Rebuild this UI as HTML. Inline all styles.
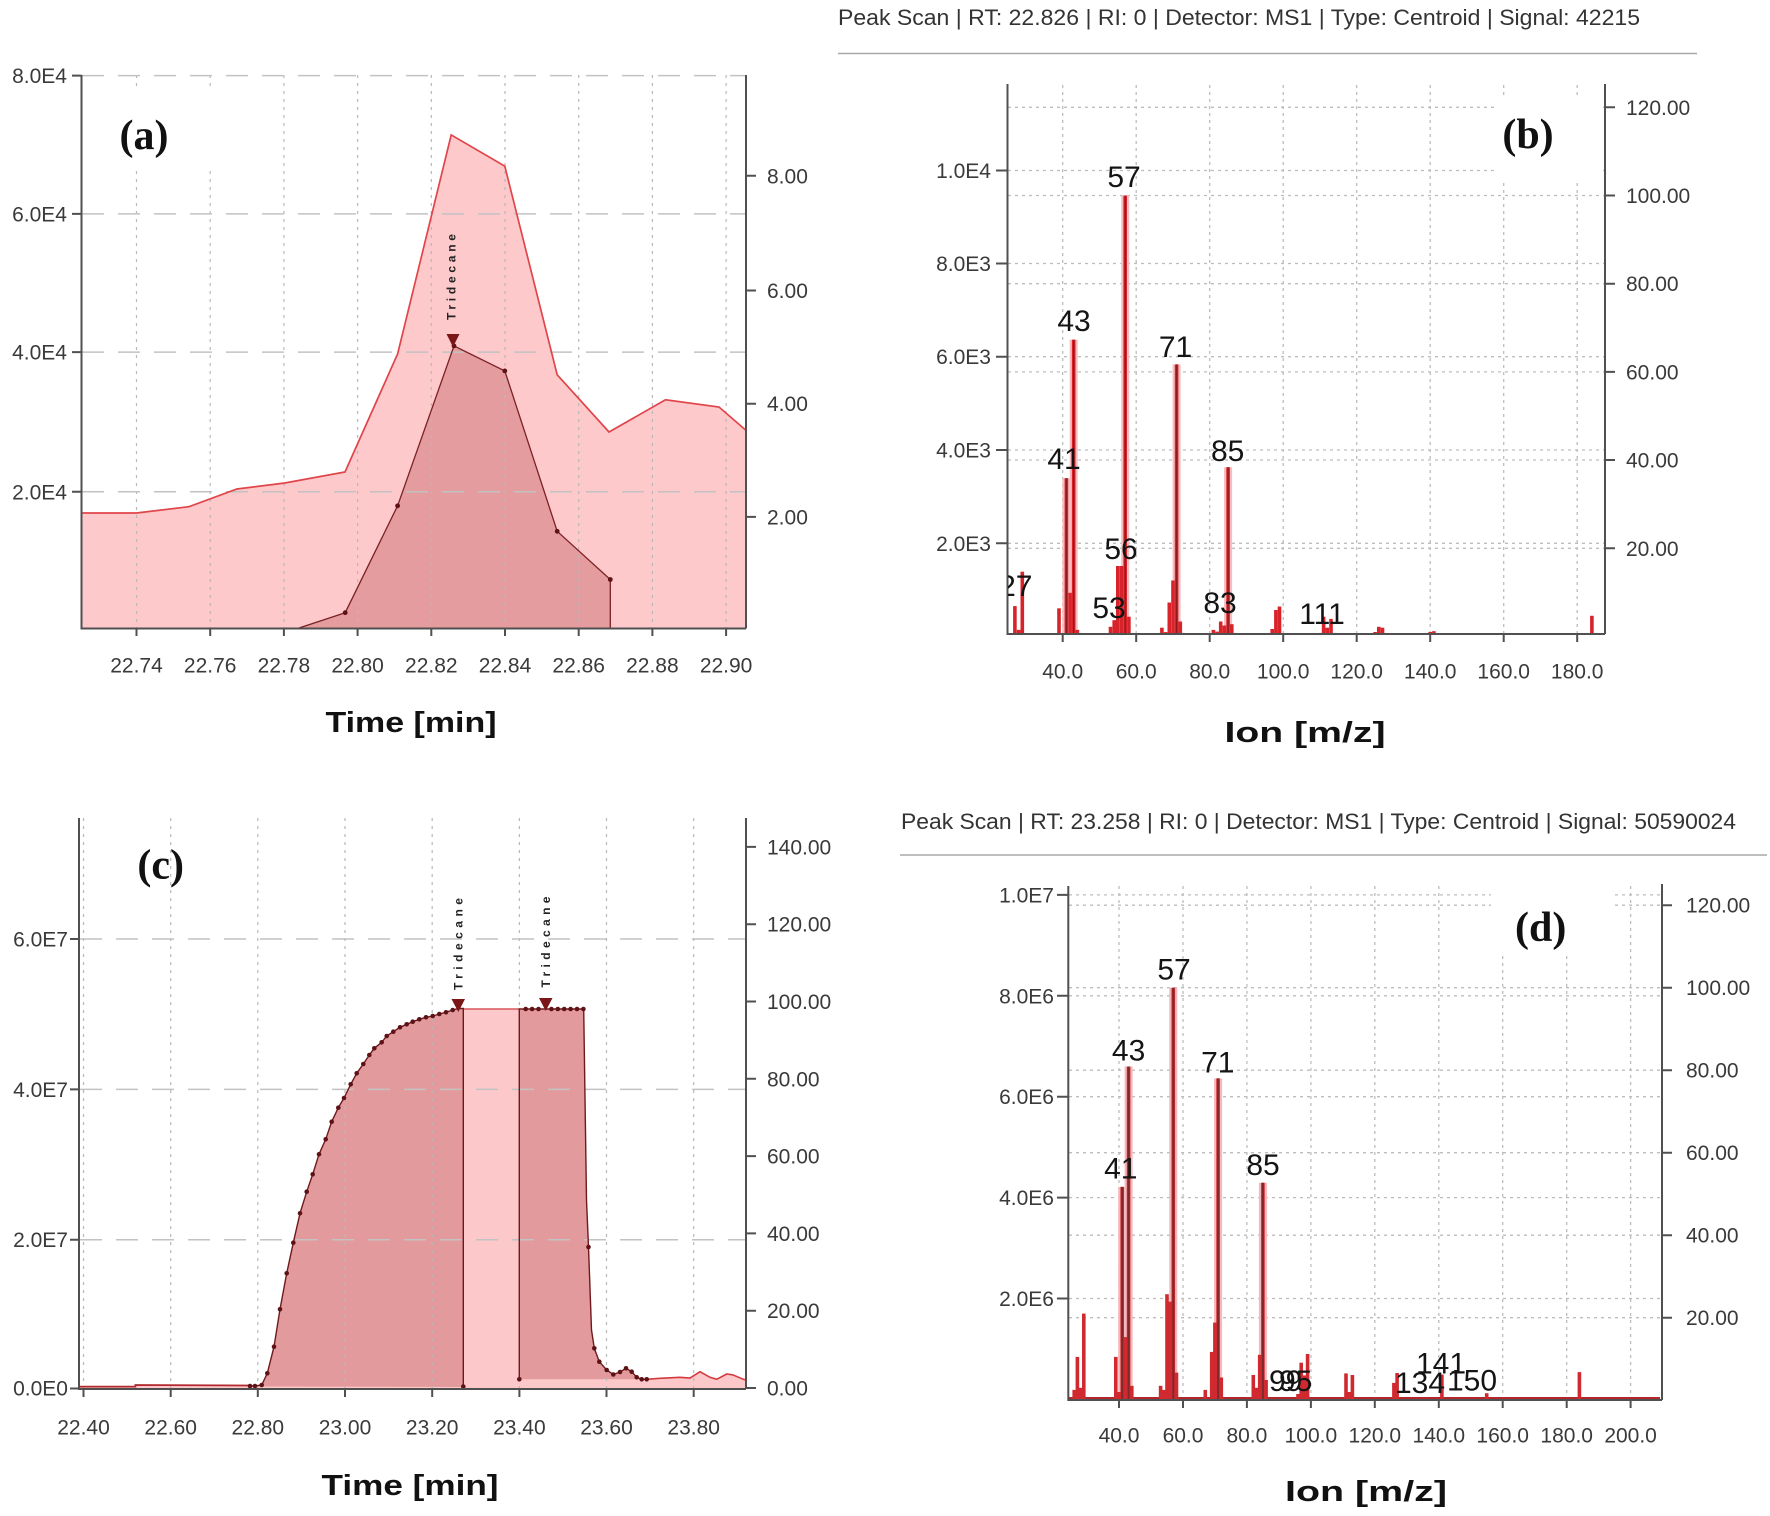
<!DOCTYPE html>
<html><head><meta charset="utf-8">
<style>
html,body{margin:0;padding:0;background:#fff;}
svg{display:block;}
text{font-family:"Liberation Sans",Arial,sans-serif;}
.tk{font-size:21px;fill:#3a3a3a;}
.pk{font-size:30px;fill:#141414;}
.ttl{font-size:29px;font-weight:bold;fill:#111;}
.lab{font-family:"Liberation Serif","Times New Roman",serif;font-size:42px;font-weight:bold;fill:#111;}
.hdr{font-size:22px;fill:#333;}
.trd{font-size:12px;font-weight:bold;fill:#222;}
.ax{stroke:#505050;stroke-width:2;fill:none;}
.gd{stroke:#c2c2c2;stroke-width:1.5;stroke-dasharray:22 14;fill:none;}
.gv{stroke:#b8b8b8;stroke-width:1.2;stroke-dasharray:3 5;fill:none;}
.gdot{stroke:#bdbdbd;stroke-width:1.3;stroke-dasharray:3 4;fill:none;}
</style></head><body>
<svg width="1770" height="1516" viewBox="0 0 1770 1516" xmlns="http://www.w3.org/2000/svg">
<defs>
<clipPath id="clipb"><rect x="1008" y="80" width="597" height="560"/></clipPath>
</defs>
<rect x="0" y="0" width="1770" height="1516" fill="#fff"/>

<!-- ================= PANEL (a) ================= -->
<polygon fill="#fdc9cb" points="81.8,628 81.8,513 136.5,513 189,506.7 237,489 284.8,483 345,472 397.6,354 451.2,134.9 504.8,166.2 557.2,374.8 609,432 665.5,399.8 719,407 745.6,430 745.6,628"/>
<polygon fill="#e49c9e" points="299,628 345.2,612.7 397.6,505.8 454,345.9 504.8,370.9 557.2,531.3 610.3,579.5 610.3,628"/>
<g class="gv">
<path d="M136.5,75V628M210.2,75V628M283.9,75V628M357.6,75V628M431.3,75V628M505,75V628M578.7,75V628M652.4,75V628M726.1,75V628"/>
</g>
<g class="gd">
<path d="M82,75.6H746M82,213.9H746M82,352.1H746M82,491.8H746"/>
</g>
<rect x="100" y="88" width="130" height="82" fill="#fff"/>
<polyline fill="none" stroke="#e0454a" stroke-width="1.7" points="81.8,513 136.5,513 189,506.7 237,489 284.8,483 345,472 397.6,354 451.2,134.9 504.8,166.2 557.2,374.8 609,432 665.5,399.8 719,407 745.6,430"/>
<polyline fill="none" stroke="#7a2024" stroke-width="1.3" points="299,628 345.2,612.7 397.6,505.8 454,345.9 504.8,370.9 557.2,531.3 610.3,579.5 610.3,628"/>
<g fill="#5e1216">
<circle cx="345.2" cy="612.7" r="2.4"/><circle cx="397.6" cy="505.8" r="2.4"/><circle cx="454" cy="345.9" r="2.4"/><circle cx="504.8" cy="370.9" r="2.4"/><circle cx="557.2" cy="531.3" r="2.4"/><circle cx="610.3" cy="579.5" r="2.4"/>
</g>
<polygon points="446.5,334 459.5,334 453,347" fill="#7a1518"/>
<text class="trd" transform="translate(455.5,277) rotate(-90)" text-anchor="middle" textLength="86" lengthAdjust="spacing">Tridecane</text>
<path class="ax" d="M81.5,75V628.5H746M746,75V628.5"/>
<path class="ax" d="M72,75.6H81.5M72,213.9H81.5M72,352.1H81.5M72,491.8H81.5M746,175.8H756M746,290.5H756M746,403.7H756M746,516.9H756M136.5,628.5V636M210.2,628.5V636M283.9,628.5V636M357.6,628.5V636M431.3,628.5V636M505,628.5V636M578.7,628.5V636M652.4,628.5V636M726.1,628.5V636"/>
<g class="tk" text-anchor="end">
<text x="67" y="83.1">8.0E4</text><text x="67" y="221.4">6.0E4</text><text x="67" y="359.6">4.0E4</text><text x="67" y="499.3">2.0E4</text>
</g>
<g class="tk">
<text x="767" y="183.3">8.00</text><text x="767" y="298">6.00</text><text x="767" y="411.2">4.00</text><text x="767" y="524.4">2.00</text>
</g>
<g class="tk" text-anchor="middle">
<text x="136.5" y="672.5">22.74</text><text x="210.2" y="672.5">22.76</text><text x="283.9" y="672.5">22.78</text><text x="357.6" y="672.5">22.80</text><text x="431.3" y="672.5">22.82</text><text x="505" y="672.5">22.84</text><text x="578.7" y="672.5">22.86</text><text x="652.4" y="672.5">22.88</text><text x="726.1" y="672.5">22.90</text>
</g>
<text class="ttl" x="411" y="732" text-anchor="middle" textLength="171" lengthAdjust="spacingAndGlyphs">Time [min]</text>
<text class="lab" x="144" y="149" text-anchor="middle">(a)</text>

<!-- ================= PANEL (b) ================= -->
<text class="hdr" x="838" y="25" textLength="802" lengthAdjust="spacingAndGlyphs">Peak Scan | RT: 22.826 | RI: 0 | Detector: MS1 | Type: Centroid | Signal: 42215</text>
<line x1="838" y1="53.5" x2="1697" y2="53.5" stroke="#a8a8a8" stroke-width="1.6"/>
<g class="gdot">
<path d="M1062.7,85V634M1136.2,85V634M1209.7,85V634M1283.2,85V634M1356.7,85V634M1430.2,85V634M1503.7,85V634M1577.2,85V634"/>
<path d="M1008,170.5H1605M1008,263.5H1605M1008,356.7H1605M1008,450H1605M1008,543.3H1605M1008,107.3H1605M1008,195.5H1605M1008,283.7H1605M1008,371.9H1605M1008,460H1605M1008,548.3H1605"/>
</g>
<rect x="1494" y="97" width="108" height="82" fill="#fff"/>
<g fill="#f8bcbf">
<rect x="1062.4" y="478.2" width="8" height="155.8"/><rect x="1069.7" y="339.7" width="8" height="294.3"/><rect x="1121.2" y="195.5" width="8" height="438.5"/><rect x="1172.6" y="364.4" width="8" height="269.6"/><rect x="1224.1" y="467.2" width="8" height="166.8"/>
</g>
<g fill="#d8232a">
<rect x="1013.1" y="606.1" width="3.6" height="27.9"/>
<rect x="1016.8" y="629.9" width="3.6" height="4.1"/>
<rect x="1020.5" y="571.7" width="3.6" height="62.3"/>
<rect x="1057.2" y="608.3" width="3.6" height="25.7"/>
<rect x="1064.6" y="478.2" width="3.6" height="155.8"/>
<rect x="1068.3" y="592.8" width="3.6" height="41.2"/>
<rect x="1071.9" y="339.7" width="3.6" height="294.3"/>
<rect x="1075.6" y="629.9" width="3.6" height="4.1"/>
<rect x="1108.7" y="626.8" width="3.6" height="7.2"/>
<rect x="1112.4" y="620.2" width="3.6" height="13.8"/>
<rect x="1116" y="566" width="3.6" height="68"/>
<rect x="1119.7" y="566" width="3.6" height="68"/>
<rect x="1123.4" y="195.5" width="3.6" height="438.5"/>
<rect x="1127.1" y="616.7" width="3.6" height="17.3"/>
<rect x="1160.1" y="627.7" width="3.6" height="6.3"/>
<rect x="1163.8" y="632.1" width="3.6" height="1.9"/>
<rect x="1167.5" y="602.5" width="3.6" height="31.5"/>
<rect x="1171.2" y="580.5" width="3.6" height="53.5"/>
<rect x="1174.8" y="364.4" width="3.6" height="269.6"/>
<rect x="1178.5" y="621.5" width="3.6" height="12.5"/>
<rect x="1211.6" y="629.9" width="3.6" height="4.1"/>
<rect x="1215.3" y="631.6" width="3.6" height="2.4"/>
<rect x="1218.9" y="621.5" width="3.6" height="12.5"/>
<rect x="1222.6" y="625.5" width="3.6" height="8.5"/>
<rect x="1226.3" y="467.2" width="3.6" height="166.8"/>
<rect x="1230" y="624.2" width="3.6" height="9.8"/>
<rect x="1270.4" y="629" width="3.6" height="5"/>
<rect x="1274.1" y="610" width="3.6" height="24"/>
<rect x="1277.7" y="606.5" width="3.6" height="27.5"/>
<rect x="1321.8" y="616.7" width="3.6" height="17.3"/>
<rect x="1325.5" y="627.7" width="3.6" height="6.3"/>
<rect x="1329.2" y="618.9" width="3.6" height="15.1"/>
<rect x="1373.3" y="632" width="3.6" height="2"/>
<rect x="1377" y="626.8" width="3.6" height="7.2"/>
<rect x="1380.7" y="627.7" width="3.6" height="6.3"/>
<rect x="1428.4" y="632" width="3.6" height="2"/>
<rect x="1432.1" y="631.2" width="3.6" height="2.8"/>
<rect x="1590.1" y="615.8" width="3.6" height="18.2"/>
</g>
<g stroke="#8e1a1e" stroke-width="1.3">
<path d="M1066.4,478.2V634M1073.7,339.7V634M1125.2,195.5V634M1176.6,364.4V634M1228.1,467.2V634"/>
</g>
<path class="ax" d="M1007.5,84V634H1605M1605,84V634"/>
<path class="ax" d="M996,170.5H1007.5M996,263.5H1007.5M996,356.7H1007.5M996,450H1007.5M996,543.3H1007.5M1605,107.3H1615M1605,195.5H1615M1605,283.7H1615M1605,371.9H1615M1605,460H1615M1605,548.3H1615M1062.7,634V642M1136.2,634V642M1209.7,634V642M1283.2,634V642M1356.7,634V642M1430.2,634V642M1503.7,634V642M1577.2,634V642"/>
<g class="tk" text-anchor="end">
<text x="991" y="178">1.0E4</text><text x="991" y="271">8.0E3</text><text x="991" y="364.2">6.0E3</text><text x="991" y="457.5">4.0E3</text><text x="991" y="550.8">2.0E3</text>
</g>
<g class="tk">
<text x="1626" y="114.8">120.00</text><text x="1626" y="203">100.00</text><text x="1626" y="291.2">80.00</text><text x="1626" y="379.4">60.00</text><text x="1626" y="467.5">40.00</text><text x="1626" y="555.8">20.00</text>
</g>
<g class="tk" text-anchor="middle">
<text x="1062.7" y="678.5">40.0</text><text x="1136.2" y="678.5">60.0</text><text x="1209.7" y="678.5">80.0</text><text x="1283.2" y="678.5">100.0</text><text x="1356.7" y="678.5">120.0</text><text x="1430.2" y="678.5">140.0</text><text x="1503.7" y="678.5">160.0</text><text x="1577.2" y="678.5">180.0</text>
</g>
<g class="pk" text-anchor="middle">
<text x="1015.8" y="596" clip-path="url(#clipb)">27</text>
<text x="1064" y="469">41</text>
<text x="1074" y="331">43</text>
<text x="1109" y="618">53</text>
<text x="1121" y="559">56</text>
<text x="1124" y="187">57</text>
<text x="1175.5" y="357">71</text>
<text x="1220" y="613">83</text>
<text x="1227.7" y="461">85</text>
<text x="1322" y="624">111</text>
</g>
<text class="ttl" x="1305" y="742" text-anchor="middle" textLength="161" lengthAdjust="spacingAndGlyphs">Ion [m/z]</text>
<text class="lab" x="1528" y="148" text-anchor="middle">(b)</text>

<!-- ================= PANEL (c) ================= -->
<polygon fill="#fcc8ca" points="79,1389 79,1386.6 135.4,1386.6 135.4,1385 250,1385.5 255,1386 261.7,1385 267.3,1373.3 274,1346.7 280,1309.3 286.7,1273.3 293.3,1242.7 300,1213.3 306.7,1191.7 312.7,1174.3 319,1154.3 325.7,1139.3 331.7,1121.7 338.3,1107.7 344,1098 350.7,1084.3 356.7,1073.3 363.3,1064 369.3,1055 374.3,1048.3 381.7,1042.3 386.7,1036 393.3,1031.7 400,1027.3 406.7,1024.3 412.7,1021.7 419.3,1019.3 426,1017.3 432.7,1016 439.3,1014 446,1012.3 452.7,1010 458.3,1008.5 463.3,1008.5 519.3,1009.5 583.7,1009.5 586.5,1200 588.5,1247 591.5,1330 594.3,1348.3 599.3,1361.7 606.7,1370 613.3,1374.5 620,1372 626,1368.3 631.7,1371.7 636.7,1377.3 641.7,1379.3 646.7,1379.3 660,1378.3 680,1377.3 690,1378 700,1371.7 710,1377.3 716.7,1379.3 726.7,1374 733.3,1375 743.3,1379.3 746,1380 746,1389"/>
<polygon fill="#e39a9c" points="250,1386.5 255,1386 261.7,1385 267.3,1373.3 274,1346.7 280,1309.3 286.7,1273.3 293.3,1242.7 300,1213.3 306.7,1191.7 312.7,1174.3 319,1154.3 325.7,1139.3 331.7,1121.7 338.3,1107.7 344,1098 350.7,1084.3 356.7,1073.3 363.3,1064 369.3,1055 374.3,1048.3 381.7,1042.3 386.7,1036 393.3,1031.7 400,1027.3 406.7,1024.3 412.7,1021.7 419.3,1019.3 426,1017.3 432.7,1016 439.3,1014 446,1012.3 452.7,1010 458.3,1008.5 463.3,1008.5 463.3,1387"/>
<polygon fill="#e39a9c" points="519.3,1379.3 519.3,1009 583.7,1009 586.5,1200 588.5,1247 591.5,1330 594.3,1348.3 599.3,1361.7 606.7,1370 613.3,1374.5 620,1372 626,1368.3 631.7,1371.7 636.7,1377.3 641.7,1379.3 646.7,1379.3"/>
<g class="gv">
<path d="M83.5,818V1389M170.7,818V1389M257.8,818V1389M345,818V1389M432.2,818V1389M519.4,818V1389M606.5,818V1389M693.7,818V1389"/>
</g>
<g class="gd">
<path d="M80,939H746M80,1089.4H746M80,1239.7H746"/>
</g>
<polyline fill="none" stroke="#b22a2f" stroke-width="1.8" points="79,1386.6 135.4,1386.6 135.4,1385 250,1385.5"/>
<polyline fill="none" stroke="#d9575b" stroke-width="1.4" points="463.3,1009 519.3,1009"/>
<polyline fill="none" stroke="#d33a3f" stroke-width="1.6" points="646.7,1379.3 660,1378.3 680,1377.3 690,1378 700,1371.7 710,1377.3 716.7,1379.3 726.7,1374 733.3,1375 743.3,1379.3 746,1380"/>
<polyline fill="none" stroke="#6e1a1d" stroke-width="1.4" points="250,1386 255,1386 261.7,1385 267.3,1373.3 274,1346.7 280,1309.3 286.7,1273.3 293.3,1242.7 300,1213.3 306.7,1191.7 312.7,1174.3 319,1154.3 325.7,1139.3 331.7,1121.7 338.3,1107.7 344,1098 350.7,1084.3 356.7,1073.3 363.3,1064 369.3,1055 374.3,1048.3 381.7,1042.3 386.7,1036 393.3,1031.7 400,1027.3 406.7,1024.3 412.7,1021.7 419.3,1019.3 426,1017.3 432.7,1016 439.3,1014 446,1012.3 452.7,1010 458.3,1008.5 463.3,1008.5 463.3,1387"/>
<polyline fill="none" stroke="#6e1a1d" stroke-width="1.4" points="519.3,1379.3 519.3,1009 583.7,1009 586.5,1200 588.5,1247 591.5,1330 594.3,1348.3 599.3,1361.7 606.7,1370 613.3,1374.5 620,1372 626,1368.3 631.7,1371.7 636.7,1377.3 641.7,1379.3 646.7,1379.3"/>
<g fill="#5e1216">
<circle cx="250" cy="1386" r="2.3"/><circle cx="255" cy="1386" r="2.3"/><circle cx="261.7" cy="1385" r="2.3"/><circle cx="267.3" cy="1373.3" r="2.3"/><circle cx="274" cy="1346.7" r="2.3"/><circle cx="280" cy="1309.3" r="2.3"/><circle cx="286.7" cy="1273.3" r="2.3"/><circle cx="293.3" cy="1242.7" r="2.3"/><circle cx="300" cy="1213.3" r="2.3"/><circle cx="306.7" cy="1191.7" r="2.3"/><circle cx="312.7" cy="1174.3" r="2.3"/><circle cx="319" cy="1154.3" r="2.3"/><circle cx="325.7" cy="1139.3" r="2.3"/><circle cx="331.7" cy="1121.7" r="2.3"/><circle cx="338.3" cy="1107.7" r="2.3"/><circle cx="344" cy="1098" r="2.3"/><circle cx="350.7" cy="1084.3" r="2.3"/><circle cx="356.7" cy="1073.3" r="2.3"/><circle cx="363.3" cy="1064" r="2.3"/><circle cx="369.3" cy="1055" r="2.3"/><circle cx="374.3" cy="1048.3" r="2.3"/><circle cx="381.7" cy="1042.3" r="2.3"/><circle cx="386.7" cy="1036" r="2.3"/><circle cx="393.3" cy="1031.7" r="2.3"/><circle cx="400" cy="1027.3" r="2.3"/><circle cx="406.7" cy="1024.3" r="2.3"/><circle cx="412.7" cy="1021.7" r="2.3"/><circle cx="419.3" cy="1019.3" r="2.3"/><circle cx="426" cy="1017.3" r="2.3"/><circle cx="432.7" cy="1016" r="2.3"/><circle cx="439.3" cy="1014" r="2.3"/><circle cx="446" cy="1012.3" r="2.3"/><circle cx="452.7" cy="1010" r="2.3"/><circle cx="463.3" cy="1386.5" r="2.3"/>
<circle cx="519.3" cy="1379.3" r="2.3"/><circle cx="525.7" cy="1009" r="2.3"/><circle cx="532.1" cy="1009" r="2.3"/><circle cx="538.5" cy="1009" r="2.3"/><circle cx="551.4" cy="1009" r="2.3"/><circle cx="557.8" cy="1009" r="2.3"/><circle cx="564.2" cy="1009" r="2.3"/><circle cx="570.6" cy="1009" r="2.3"/><circle cx="577" cy="1009" r="2.3"/><circle cx="583.4" cy="1009" r="2.3"/><circle cx="588.5" cy="1247" r="2.3"/><circle cx="594.3" cy="1348.3" r="2.3"/><circle cx="599.3" cy="1361.7" r="2.3"/><circle cx="606.7" cy="1370" r="2.3"/><circle cx="613.3" cy="1374.5" r="2.3"/><circle cx="620" cy="1372" r="2.3"/><circle cx="626" cy="1368.3" r="2.3"/><circle cx="631.7" cy="1371.7" r="2.3"/><circle cx="636.7" cy="1377.3" r="2.3"/><circle cx="641.7" cy="1379.3" r="2.3"/><circle cx="646.7" cy="1379.3" r="2.3"/>
</g>
<polygon points="451.5,999 465,999 458.3,1012" fill="#7a1518"/>
<polygon points="539,998 552.5,998 545.7,1011" fill="#7a1518"/>
<text class="trd" transform="translate(462.5,944) rotate(-90)" text-anchor="middle" textLength="92" lengthAdjust="spacing">Tridecane</text>
<text class="trd" transform="translate(550,942) rotate(-90)" text-anchor="middle" textLength="91" lengthAdjust="spacing">Tridecane</text>
<path class="ax" d="M79,818V1389H746M746,818V1389"/>
<path class="ax" d="M70,939H79M70,1089.4H79M70,1239.7H79M70,1388.5H79M746,846.9H756M746,924.2H756M746,1001.5H756M746,1078.8H756M746,1156.1H756M746,1233.4H756M746,1310.7H756M746,1388H756M83.5,1389V1397M170.7,1389V1397M257.8,1389V1397M345,1389V1397M432.2,1389V1397M519.4,1389V1397M606.5,1389V1397M693.7,1389V1397"/>
<g class="tk" text-anchor="end">
<text x="68" y="946.5">6.0E7</text><text x="68" y="1096.9">4.0E7</text><text x="68" y="1247.2">2.0E7</text><text x="68" y="1395.5">0.0E0</text>
</g>
<g class="tk">
<text x="767" y="854.4">140.00</text><text x="767" y="931.7">120.00</text><text x="767" y="1009">100.00</text><text x="767" y="1086.3">80.00</text><text x="767" y="1163.6">60.00</text><text x="767" y="1240.9">40.00</text><text x="767" y="1318.2">20.00</text><text x="767" y="1395.5">0.00</text>
</g>
<g class="tk" text-anchor="middle">
<text x="83.5" y="1434.5">22.40</text><text x="170.7" y="1434.5">22.60</text><text x="257.8" y="1434.5">22.80</text><text x="345" y="1434.5">23.00</text><text x="432.2" y="1434.5">23.20</text><text x="519.4" y="1434.5">23.40</text><text x="606.5" y="1434.5">23.60</text><text x="693.7" y="1434.5">23.80</text>
</g>
<text class="ttl" x="410" y="1495" text-anchor="middle" textLength="177" lengthAdjust="spacingAndGlyphs">Time [min]</text>
<text class="lab" x="160.7" y="878.5" text-anchor="middle">(c)</text>

<!-- ================= PANEL (d) ================= -->
<text class="hdr" x="901" y="829" textLength="835" lengthAdjust="spacingAndGlyphs">Peak Scan | RT: 23.258 | RI: 0 | Detector: MS1 | Type: Centroid | Signal: 50590024</text>
<line x1="900" y1="855" x2="1767" y2="855" stroke="#a8a8a8" stroke-width="1.6"/>
<g class="gdot">
<path d="M1119,886V1400M1183,886V1400M1246.9,886V1400M1310.9,886V1400M1374.8,886V1400M1438.8,886V1400M1502.7,886V1400M1566.7,886V1400M1630.6,886V1400"/>
<path d="M1069,894.9H1662M1069,995.8H1662M1069,1096.7H1662M1069,1197.6H1662M1069,1298.5H1662M1069,905.2H1662M1069,987.7H1662M1069,1070.2H1662M1069,1152.7H1662M1069,1235.2H1662M1069,1317.7H1662"/>
</g>
<rect x="1491" y="884" width="121" height="72" fill="#fff"/>
<line x1="1069" y1="1398.3" x2="1660" y2="1398.3" stroke="#b5262b" stroke-width="2.5"/>
<g fill="#f5b7ba">
<rect x="1118.2" y="1186.9" width="8" height="213.1"/><rect x="1124.6" y="1066.5" width="8" height="333.5"/><rect x="1169.3" y="987.7" width="8" height="412.3"/><rect x="1214.1" y="1078.4" width="8" height="321.6"/><rect x="1258.9" y="1182.8" width="8" height="217.2"/>
</g>
<g fill="#d02a30">
<rect x="1072.4" y="1389.9" width="3.6" height="10.1"/>
<rect x="1075.6" y="1356.9" width="3.6" height="43.1"/>
<rect x="1078.8" y="1387.8" width="3.6" height="12.2"/>
<rect x="1082" y="1313.6" width="3.6" height="86.4"/>
<rect x="1114" y="1356.9" width="3.6" height="43.1"/>
<rect x="1117.2" y="1392" width="3.6" height="8"/>
<rect x="1120.4" y="1186.9" width="3.6" height="213.1"/>
<rect x="1123.6" y="1337.1" width="3.6" height="62.9"/>
<rect x="1126.8" y="1066.5" width="3.6" height="333.5"/>
<rect x="1130" y="1385.8" width="3.6" height="14.2"/>
<rect x="1158.8" y="1385.8" width="3.6" height="14.2"/>
<rect x="1162" y="1389.9" width="3.6" height="10.1"/>
<rect x="1165.2" y="1294.2" width="3.6" height="105.8"/>
<rect x="1168.4" y="1301.6" width="3.6" height="98.4"/>
<rect x="1171.5" y="987.7" width="3.6" height="412.3"/>
<rect x="1174.7" y="1372.6" width="3.6" height="27.4"/>
<rect x="1203.5" y="1389.9" width="3.6" height="10.1"/>
<rect x="1209.9" y="1351.9" width="3.6" height="48.1"/>
<rect x="1213.1" y="1322.6" width="3.6" height="77.4"/>
<rect x="1216.3" y="1078.4" width="3.6" height="321.6"/>
<rect x="1219.5" y="1377.5" width="3.6" height="22.5"/>
<rect x="1251.5" y="1375" width="3.6" height="25"/>
<rect x="1254.7" y="1387.8" width="3.6" height="12.2"/>
<rect x="1257.9" y="1354.8" width="3.6" height="45.2"/>
<rect x="1261.1" y="1182.8" width="3.6" height="217.2"/>
<rect x="1264.3" y="1380" width="3.6" height="20"/>
<rect x="1296.2" y="1394" width="3.6" height="6"/>
<rect x="1299.4" y="1362.7" width="3.6" height="37.3"/>
<rect x="1302.6" y="1375.4" width="3.6" height="24.6"/>
<rect x="1305.8" y="1354" width="3.6" height="46"/>
<rect x="1344.2" y="1373.4" width="3.6" height="26.6"/>
<rect x="1347.4" y="1392" width="3.6" height="8"/>
<rect x="1350.6" y="1375" width="3.6" height="25"/>
<rect x="1392.1" y="1382.9" width="3.6" height="17.1"/>
<rect x="1395.3" y="1373" width="3.6" height="27"/>
<rect x="1440.1" y="1374.6" width="3.6" height="25.4"/>
<rect x="1484.9" y="1393.2" width="3.6" height="6.8"/>
<rect x="1577.6" y="1372.1" width="3.6" height="27.9"/>
</g>
<g stroke="#7c2a2c" stroke-width="2">
<path d="M1122.2,1186.9V1400M1128.6,1066.5V1400M1173.3,987.7V1400M1218.1,1078.4V1400M1262.9,1182.8V1400"/>
</g>
<path class="ax" d="M1068.3,886V1400H1662M1662,884V1400"/>
<path class="ax" d="M1057,894.9H1068.3M1057,995.8H1068.3M1057,1096.7H1068.3M1057,1197.6H1068.3M1057,1298.5H1068.3M1662,905.2H1672M1662,987.7H1672M1662,1070.2H1672M1662,1152.7H1672M1662,1235.2H1672M1662,1317.7H1672M1119,1400V1408M1183,1400V1408M1246.9,1400V1408M1310.9,1400V1408M1374.8,1400V1408M1438.8,1400V1408M1502.7,1400V1408M1566.7,1400V1408M1630.6,1400V1408"/>
<g class="tk" text-anchor="end">
<text x="1054" y="902.4">1.0E7</text><text x="1054" y="1003.3">8.0E6</text><text x="1054" y="1104.2">6.0E6</text><text x="1054" y="1205.1">4.0E6</text><text x="1054" y="1306">2.0E6</text>
</g>
<g class="tk">
<text x="1686" y="912.7">120.00</text><text x="1686" y="995.2">100.00</text><text x="1686" y="1077.7">80.00</text><text x="1686" y="1160.2">60.00</text><text x="1686" y="1242.7">40.00</text><text x="1686" y="1325.2">20.00</text>
</g>
<g class="tk" text-anchor="middle">
<text x="1119" y="1442.5">40.0</text><text x="1183" y="1442.5">60.0</text><text x="1246.9" y="1442.5">80.0</text><text x="1310.9" y="1442.5">100.0</text><text x="1374.8" y="1442.5">120.0</text><text x="1438.8" y="1442.5">140.0</text><text x="1502.7" y="1442.5">160.0</text><text x="1566.7" y="1442.5">180.0</text><text x="1630.6" y="1442.5">200.0</text>
</g>
<g class="pk" text-anchor="middle">
<text x="1120.8" y="1178.4">41</text>
<text x="1128.6" y="1060.4">43</text>
<text x="1174" y="979.5">57</text>
<text x="1217.8" y="1072.5">71</text>
<text x="1263" y="1175">85</text>
<text x="1420" y="1392.8">134</text>
<text x="1441" y="1373.5">141</text>
<text x="1472" y="1390.4">150</text>
</g>
<g class="pk">
<text x="1269" y="1391">99</text>
<text x="1279" y="1391">95</text>
</g>
<text class="ttl" x="1366" y="1501" text-anchor="middle" textLength="162" lengthAdjust="spacingAndGlyphs">Ion [m/z]</text>
<text class="lab" x="1540.7" y="941" text-anchor="middle">(d)</text>
</svg>
</body></html>
